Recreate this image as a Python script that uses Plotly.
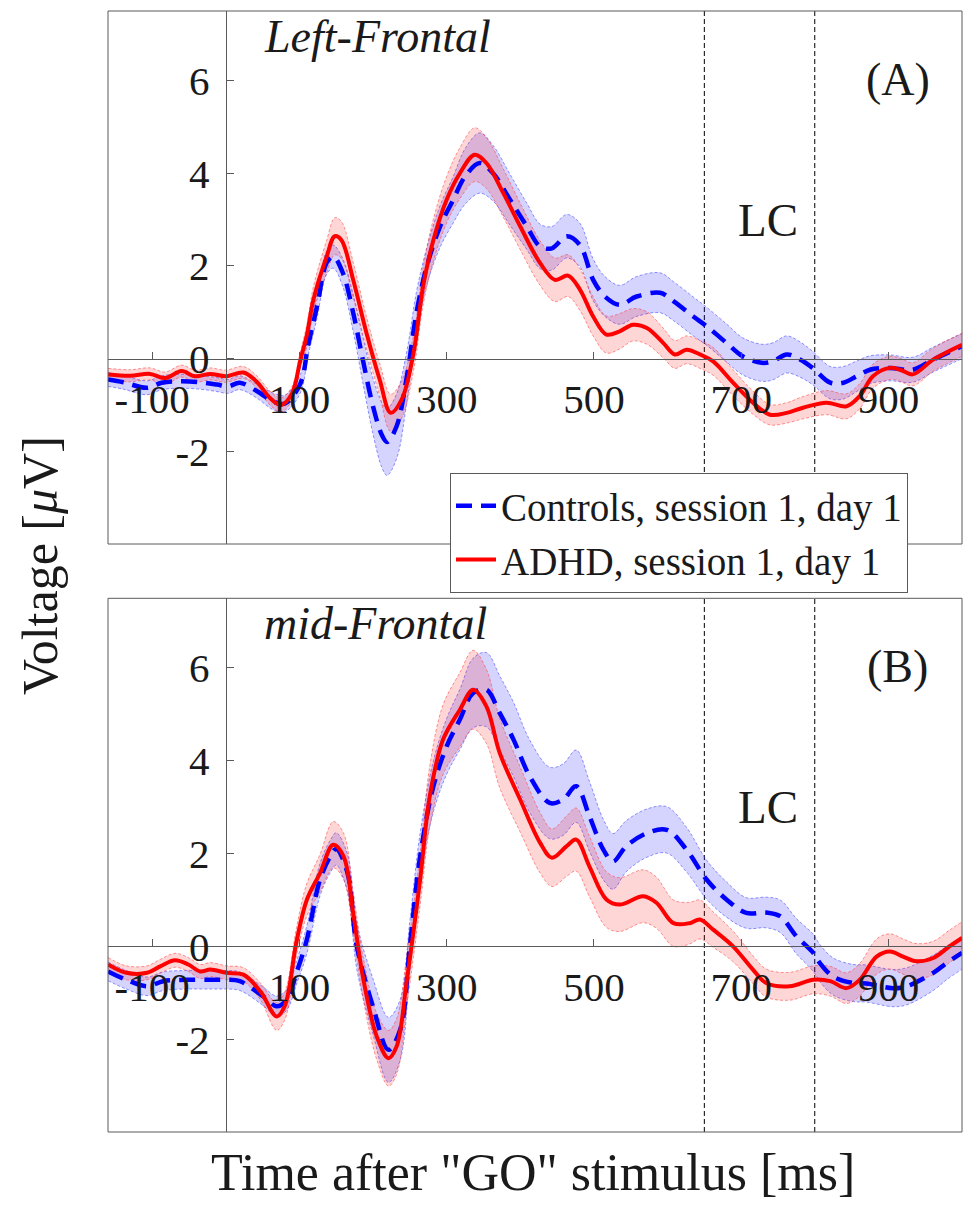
import plotly.graph_objects as go

# ---------------- data ----------------
# Panel A (Left-Frontal)
t_A_adhd = [-160,-130,-103,-82,-60,-42,-21,0,24,
            42,60,75,90,101,110,119,137,148,157,
            173,191,209,224,239,255,268,282,300,318,
            338,354,377,400,427,447,465,481,499,517,
            535,553,572,594,610,626,644,662,689,716,
            739,762,784,816,843,861,879,902,916,933,
            961,1000]
mean_A_adhd = [-0.34,-0.37,-0.33,-0.42,-0.27,-0.38,-0.33,-0.38,-0.30,
               -0.50,-0.85,-1.00,-0.75,-0.05,0.50,1.27,2.20,2.64,2.56,
               1.70,0.56,-0.45,-1.17,-0.88,0.12,1.56,2.56,3.43,4.00,
               4.40,4.22,3.57,2.85,2.06,1.70,1.79,1.49,0.91,0.52,
               0.59,0.73,0.66,0.34,0.09,0.19,0.09,-0.06,-0.52,-0.95,
               -1.21,-1.17,-1.06,-0.95,-1.03,-0.81,-0.38,-0.20,-0.24,-0.34,
               -0.02,0.30]
sem_A_adhd = [0.13,0.13,0.13,0.13,0.13,0.13,0.13,0.13,0.13,
              0.13,0.15,0.15,0.15,0.18,0.22,0.28,0.35,0.40,0.40,
              0.38,0.35,0.35,0.40,0.40,0.38,0.40,0.45,0.50,0.55,
              0.58,0.55,0.52,0.50,0.48,0.47,0.45,0.45,0.42,0.40,
              0.38,0.35,0.35,0.32,0.30,0.30,0.30,0.30,0.28,0.25,
              0.22,0.22,0.24,0.26,0.27,0.27,0.26,0.25,0.25,0.25,
              0.25,0.25]

t_A_ctrl = [-160,-139,-107,-87,-62,-35,-12,3,19,
            42,64,80,101,112,124,137,146,159,173,
            187,200,212,219,232,246,259,273,291,309,
            325,345,363,386,409,427,443,463,481,499,
            515,535,558,590,608,635,653,680,702,728,
            743,762,780,797,821,839,857,875,902,933,
            961,1000]
mean_A_ctrl = [-0.45,-0.51,-0.63,-0.52,-0.49,-0.51,-0.56,-0.60,-0.52,
               -0.70,-0.92,-0.97,-0.55,0.30,1.13,2.07,2.20,1.85,0.99,
               -0.09,-1.03,-1.65,-1.80,-1.46,-0.38,0.99,1.99,2.85,3.43,
               3.93,4.22,4.00,3.43,2.85,2.42,2.38,2.64,2.45,1.70,
               1.34,1.16,1.34,1.42,1.24,0.91,0.70,0.34,0.05,-0.09,
               -0.06,0.09,-0.02,-0.20,-0.52,-0.52,-0.38,-0.24,-0.20,-0.24,
               -0.02,0.27]
sem_A_ctrl = [0.15,0.15,0.15,0.15,0.15,0.15,0.15,0.15,0.15,
              0.15,0.18,0.18,0.20,0.22,0.25,0.25,0.25,0.30,0.40,
              0.50,0.60,0.70,0.72,0.70,0.55,0.45,0.40,0.45,0.50,
              0.60,0.65,0.60,0.55,0.50,0.48,0.47,0.47,0.47,0.45,
              0.43,0.42,0.43,0.43,0.42,0.42,0.41,0.41,0.40,0.40,
              0.40,0.40,0.38,0.36,0.35,0.35,0.33,0.30,0.28,0.27,
              0.27,0.27]

# Panel B (mid-Frontal)
t_B_adhd = [-160,-135,-107,-89,-69,-51,-35,-21,1,24,
            47,69,80,96,110,128,146,160,173,187,
            205,221,232,246,264,277,295,318,336,354,
            372,400,427,443,463,476,494,517,535,567,
            585,608,630,644,662,689,716,734,766,798,
            821,843,861,884,902,920,938,961,983,1000]
mean_B_adhd = [-0.39,-0.57,-0.57,-0.43,-0.30,-0.39,-0.54,-0.50,-0.57,-0.61,
               -0.97,-1.51,-1.29,0.10,1.00,1.58,2.19,1.94,0.72,-0.72,
               -1.94,-2.41,-2.16,-0.72,1.44,3.23,4.45,5.10,5.53,5.17,
               4.17,3.16,2.23,1.91,2.16,2.30,1.72,1.01,0.90,1.08,
               0.94,0.50,0.50,0.58,0.36,0.00,-0.50,-0.79,-0.86,-0.72,
               -0.75,-0.90,-0.72,-0.22,-0.11,-0.22,-0.32,-0.25,0.00,0.18]
sem_B_adhd = [0.15,0.15,0.15,0.15,0.15,0.15,0.15,0.15,0.15,0.15,
              0.18,0.30,0.30,0.30,0.35,0.40,0.50,0.50,0.45,0.45,
              0.50,0.60,0.60,0.55,0.55,0.65,0.75,0.80,0.85,0.80,
              0.75,0.70,0.65,0.62,0.65,0.68,0.65,0.60,0.58,0.57,
              0.55,0.50,0.45,0.42,0.38,0.33,0.30,0.30,0.30,0.30,
              0.32,0.33,0.35,0.38,0.38,0.38,0.38,0.36,0.35,0.35]

t_B_ctrl = [-160,-135,-107,-85,-53,-20,1,19,
            51,69,83,96,110,128,142,150,165,178,
            200,221,237,250,264,282,300,318,336,354,
            372,391,413,440,458,476,494,513,526,544,
            572,599,626,653,680,707,734,753,775,798,
            807,825,852,870,906,925,961,979,1000]
mean_B_ctrl = [-0.54,-0.72,-0.86,-0.75,-0.72,-0.72,-0.72,-0.75,
               -1.08,-1.29,-1.15,-0.57,0.14,1.44,1.94,2.10,1.60,0.00,
               -1.30,-2.23,-1.79,0.00,1.94,3.45,4.31,4.89,5.46,5.53,
               5.03,4.45,3.66,3.09,3.16,3.45,2.80,2.08,1.83,2.16,
               2.44,2.51,2.08,1.44,1.01,0.72,0.73,0.65,0.22,-0.14,
               -0.36,-0.65,-0.79,-0.80,-0.90,-0.86,-0.57,-0.36,-0.14]
sem_B_ctrl = [0.20,0.20,0.20,0.20,0.20,0.20,0.20,0.20,
              0.20,0.22,0.22,0.25,0.30,0.35,0.35,0.35,0.40,0.50,
              0.60,0.70,0.65,0.55,0.50,0.55,0.60,0.65,0.75,0.80,
              0.80,0.80,0.78,0.77,0.77,0.78,0.75,0.65,0.60,0.55,
              0.52,0.50,0.48,0.42,0.38,0.33,0.33,0.35,0.38,0.40,
              0.40,0.40,0.40,0.40,0.40,0.40,0.38,0.36,0.35]

x_ticks = [-100, 100, 300, 500, 700, 900]
x_ticklabels = ["-100", "100", "300", "500", "700", "900"]
y_ticks = [-2, 0, 2, 4, 6]
y_ticklabels = ["-2", "0", "2", "4", "6"]
lc_bounds = [650, 800]
x_range = [-160, 1000]
y_range = [-4, 7.5]
panel_titles = ["Left-Frontal", "mid-Frontal"]
panel_labels = ["(A)", "(B)"]
legend_names = ["Controls, session 1, day 1", "ADHD, session 1, day 1"]

# ---------------- styling ----------------
FONT = "Liberation Serif"
TXT = "#1a1a1a"
AXC = "#5a5a5a"
BLUE = "#0000ff"
RED = "#ff0000"
BLUE_FILL = "rgba(0,0,255,0.17)"
RED_FILL = "rgba(255,0,0,0.16)"
BLUE_EDGE = "rgba(60,60,255,0.55)"
RED_EDGE = "rgba(255,60,60,0.55)"

W, H = 966, 1205
ML, MR, MT, MB = 108, 4, 11, 73
plot_h = H - MT - MB
domA = [(1132 - 544) / plot_h, 1.0]
domB = [0.0, (1132 - 598.3) / plot_h]
frac0 = (0 - y_range[0]) / (y_range[1] - y_range[0])
x0_paper = (0 - x_range[0]) / (x_range[1] - x_range[0])

fig = go.Figure()

panels = [
    ("x", "y", t_A_ctrl, mean_A_ctrl, sem_A_ctrl, t_A_adhd, mean_A_adhd, sem_A_adhd, True),
    ("x2", "y2", t_B_ctrl, mean_B_ctrl, sem_B_ctrl, t_B_adhd, mean_B_adhd, sem_B_adhd, False),
]

for xa, ya, tc, mc, sc, ta, ma, sa, show in panels:
    for t, m, s, fillc, edgec in [(tc, mc, sc, BLUE_FILL, BLUE_EDGE), (ta, ma, sa, RED_FILL, RED_EDGE)]:
        up = [a + b for a, b in zip(m, s)]
        lo = [a - b for a, b in zip(m, s)]
        fig.add_trace(go.Scatter(x=t, y=up, mode="lines", xaxis=xa, yaxis=ya,
                                 line=dict(color=edgec, width=1, dash="3px,2px", shape="spline"),
                                 showlegend=False, hoverinfo="skip"))
        fig.add_trace(go.Scatter(x=t, y=lo, mode="lines", xaxis=xa, yaxis=ya, fill="tonexty",
                                 fillcolor=fillc,
                                 line=dict(color=edgec, width=1, dash="3px,2px", shape="spline"),
                                 showlegend=False, hoverinfo="skip"))
    fig.add_trace(go.Scatter(x=tc, y=mc, mode="lines", xaxis=xa, yaxis=ya, name=legend_names[0],
                             line=dict(color=BLUE, width=4.5, dash="16px,9px", shape="spline"),
                             showlegend=show))
    fig.add_trace(go.Scatter(x=ta, y=ma, mode="lines", xaxis=xa, yaxis=ya, name=legend_names[1],
                             line=dict(color=RED, width=4, shape="spline"),
                             showlegend=show))

def xaxis_cfg(dom):
    return dict(range=x_range, domain=[0, 1], anchor="free",
                position=dom[0] + frac0 * (dom[1] - dom[0]),
                showline=True, linecolor=AXC, linewidth=1,
                ticks="inside", ticklen=7, tickcolor=AXC, tickwidth=1,
                tickmode="array", tickvals=x_ticks, ticktext=x_ticklabels,
                tickfont=dict(family=FONT, size=41, color=TXT),
                ticklabelstandoff=4,
                showgrid=False, zeroline=False, fixedrange=True)

def yaxis_cfg(dom):
    return dict(range=y_range, domain=dom, anchor="free", position=x0_paper,
                showline=True, linecolor=AXC, linewidth=1,
                ticks="inside", ticklen=7, tickcolor=AXC, tickwidth=1,
                tickmode="array", tickvals=y_ticks, ticktext=y_ticklabels,
                tickfont=dict(family=FONT, size=41, color=TXT),
                ticklabelstandoff=8,
                showgrid=False, zeroline=False, fixedrange=True)

shapes = []
annotations = []
for i, (xa, ya) in enumerate([("x", "y"), ("x2", "y2")]):
    shapes.append(dict(type="rect", xref=f"{xa} domain", yref=f"{ya} domain",
                       x0=0, x1=1, y0=0, y1=1, line=dict(color=AXC, width=1), layer="above"))
    for xb in lc_bounds:
        shapes.append(dict(type="line", xref=xa, yref=f"{ya} domain", x0=xb, x1=xb, y0=0, y1=1,
                           line=dict(color="black", width=1, dash="5px,3px"), layer="below"))
    annotations.append(dict(x=49, y=6.95, xref=xa, yref=ya, text=f"<i>{panel_titles[i]}</i>",
                            showarrow=False, xanchor="left", yanchor="middle",
                            font=dict(family=FONT, size=46, color=TXT)))
    annotations.append(dict(x=913, y=6.02, xref=xa, yref=ya, text=panel_labels[i],
                            showarrow=False, xanchor="center", yanchor="middle",
                            font=dict(family=FONT, size=46, color=TXT)))
    annotations.append(dict(x=736, y=3.0, xref=xa, yref=ya, text="LC",
                            showarrow=False, xanchor="center", yanchor="middle",
                            font=dict(family=FONT, size=47, color=TXT)))

annotations.append(dict(x=(40 - ML) / (W - ML - MR), y=(1132 - 566) / plot_h, xref="paper", yref="paper",
                        text="Voltage [<i>μ</i>V]", textangle=-90, showarrow=False,
                        xanchor="center", yanchor="middle",
                        font=dict(family=FONT, size=50, color=TXT)))
annotations.append(dict(x=(533 - ML) / (W - ML - MR), y=(1132 - 1172) / plot_h, xref="paper", yref="paper",
                        text='Time after "GO" stimulus [ms]', showarrow=False,
                        xanchor="center", yanchor="middle",
                        font=dict(family=FONT, size=52, color=TXT)))

fig.update_layout(
    width=W, height=H, autosize=False,
    margin=dict(l=ML, r=MR, t=MT, b=MB),
    paper_bgcolor="white", plot_bgcolor="white",
    font=dict(family=FONT, color=TXT),
    xaxis=xaxis_cfg(domA), yaxis=yaxis_cfg(domA),
    xaxis2=xaxis_cfg(domB), yaxis2=yaxis_cfg(domB),
    shapes=shapes, annotations=annotations,
    legend=dict(x=(908 - ML) / (W - ML - MR), y=(1132 - 473) / plot_h,
                xanchor="right", yanchor="top", traceorder="normal",
                bgcolor="white", bordercolor=AXC, borderwidth=1,
                font=dict(family=FONT, size=39, color=TXT),
                tracegroupgap=0, itemwidth=40),
    showlegend=True,
)

fig.write_html("out.html", config={"responsive": False, "displayModeBar": False},
               post_script="document.body.style.margin='0px';document.body.style.overflow='hidden';")
